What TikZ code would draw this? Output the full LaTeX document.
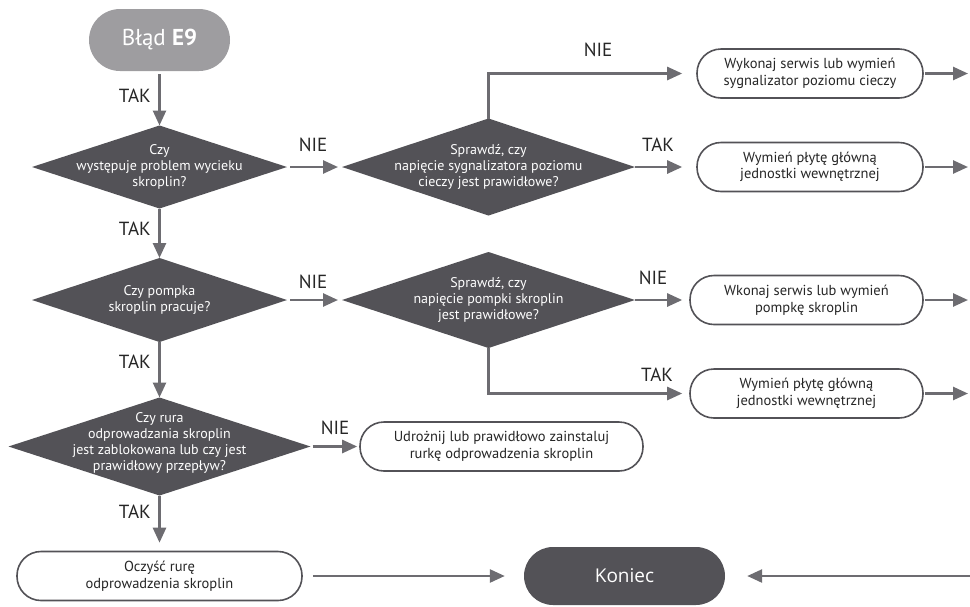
\documentclass[tikz,border=0pt]{standalone}
\usepackage{fontspec}
\setmainfont{PT Sans}
\newfontfamily\kfont{Open Sans}
\usetikzlibrary{arrows.meta,shapes.geometric}
\definecolor{dk}{HTML}{535257}
\definecolor{ar}{HTML}{6D6C71}
\definecolor{stc}{HTML}{9E9DA0}
\definecolor{tx}{HTML}{262626}
\begin{document}
\begin{tikzpicture}[x=1pt,y=-1pt,
  dia/.style={shape=diamond, fill=dk, inner sep=0pt, outer sep=0pt},
  dtext/.style={text=white, align=center, font=\fontsize{14}{16}\selectfont, inner sep=0pt},
  box/.style={draw=dk, line width=1.6pt, rounded corners=24pt, minimum height=49pt,
    align=center, font=\fontsize{14.5}{16.5}\selectfont, text=tx, inner sep=0pt, fill=white},
  startbox/.style={fill=stc, rounded corners=31pt, minimum width=141pt, minimum height=62pt,
    text=white, font=\fontsize{23}{23}\selectfont, inner sep=0pt},
  endbox/.style={fill=dk, rounded corners=29pt, minimum width=201pt, minimum height=58pt,
    text=white, font=\kfont\fontsize{19}{19}\selectfont, inner sep=0pt},
  flow/.style={draw=ar, line width=2.6pt, -{Triangle[length=15pt,width=13pt]}},
  lab/.style={font=\fontsize{19}{19}\selectfont, text=tx, inner sep=0pt}]
\useasboundingbox (0,0) rectangle (970,606);

% start / end
\node[startbox] (st) at (159.5,40) {Błąd \textbf{E9}};
\node[endbox] (ko) at (624.5,576) {Koniec};

% left column diamonds
\node[dia, minimum width=255pt, minimum height=83pt,
  label={[dtext]center:{Czy\\występuje problem wycieku\\skroplin?}}] (d1) at (159.5,167) {};
\node[dia, minimum width=255pt, minimum height=84pt,
  label={[dtext]center:{Czy pompka\\skroplin pracuje?}}] (d2) at (159.5,300) {};
\node[dia, minimum width=302pt, minimum height=98pt,
  label={[dtext,yshift=4pt]center:{Czy rura\\odprowadzania skroplin\\jest zablokowana lub czy jest\\prawidłowy przepływ?}}] (d3) at (159.5,446.5) {};

% middle diamonds
\node[dia, minimum width=293pt, minimum height=97pt,
  label={[dtext]center:{Sprawdź, czy\\napięcie sygnalizatora poziomu\\cieczy jest prawidłowe?}}] (s1) at (488.5,167) {};
\node[dia, minimum width=293pt, minimum height=96pt,
  label={[dtext]center:{Sprawdź, czy\\napięcie pompki skroplin\\jest prawidłowe?}}] (s2) at (488.5,300) {};

% boxes
\node[box, minimum width=226pt] (b1) at (810,73.5) {Wykonaj serwis lub wymień\\sygnalizator poziomu cieczy};
\node[box, minimum width=226pt] (b2) at (810,167) {Wymień płytę główną\\jednostki wewnętrznej};
\node[box, minimum width=233pt] (b3) at (806.5,300) {Wkonaj serwis lub wymień\\pompkę skroplin};
\node[box, minimum width=233pt] (b4) at (806.5,393.5) {Wymień płytę główną\\jednostki wewnętrznej};
\node[box, minimum width=283pt] (b5) at (501.5,446.5) {Udrożnij lub prawidłowo zainstaluj\\rurkę odprowadzenia skroplin};
\node[box, minimum width=285pt] (b6) at (159.5,576) {Oczyść rurę\\odprowadzenia skroplin};

% free ends at the right edge
\coordinate (e1) at (968,73.5);
\coordinate (e2) at (968,167);
\coordinate (e3) at (968,300);
\coordinate (e4) at (968,393.5);
\coordinate (e5) at (970,576);

% connectors
\draw[flow, shorten <=3pt] (st) -- (d1);
\draw[flow] (d1) -- (d2);
\draw[flow] (d2) -- (d3);
\draw[flow, shorten >=8pt] (d3) -- (b6);
\draw[flow, shorten <=3pt, shorten >=4pt] (d1) -- (s1);
\draw[flow, shorten <=3pt, shorten >=4pt] (d2) -- (s2);
\draw[flow, shorten <=2pt, shorten >=2pt] (d3) -- (b5);
\draw[flow, shorten >=14pt] (s1.north) |- (b1.west);
\draw[flow, shorten >=14pt] (s1) -- (b2);
\draw[flow, shorten >=7pt] (s2) -- (b3);
\draw[flow, shorten >=7pt] (s2.south) |- (b4.west);
\draw[flow, shorten <=1pt] (b1) -- (e1);
\draw[flow, shorten <=1pt] (b2) -- (e2);
\draw[flow, shorten <=1pt] (b3) -- (e3);
\draw[flow, shorten <=1pt] (b4) -- (e4);
\draw[flow, shorten <=10pt, shorten >=19pt] (b6) -- (ko);
\draw[flow, shorten >=22pt] (e5) -- (ko);

% labels
\node[lab, anchor=east] (t1) at (151,96) {TAK};
\node[lab, anchor=east] (t2) at (151,229) {TAK};
\node[lab, anchor=east] (t3) at (151,362) {TAK};
\node[lab, anchor=east] (t4) at (151,512) {TAK};
\node[lab] (n1) at (313,145) {NIE};
\node[lab] (n2) at (313,282) {NIE};
\node[lab] (n3) at (335,428) {NIE};
\node[lab] (n4) at (598,50) {NIE};
\node[lab] (n5) at (653,278) {NIE};
\node[lab] (t5) at (658,145) {TAK};
\node[lab] (t6) at (657,375) {TAK};
\end{tikzpicture}
\end{document}
